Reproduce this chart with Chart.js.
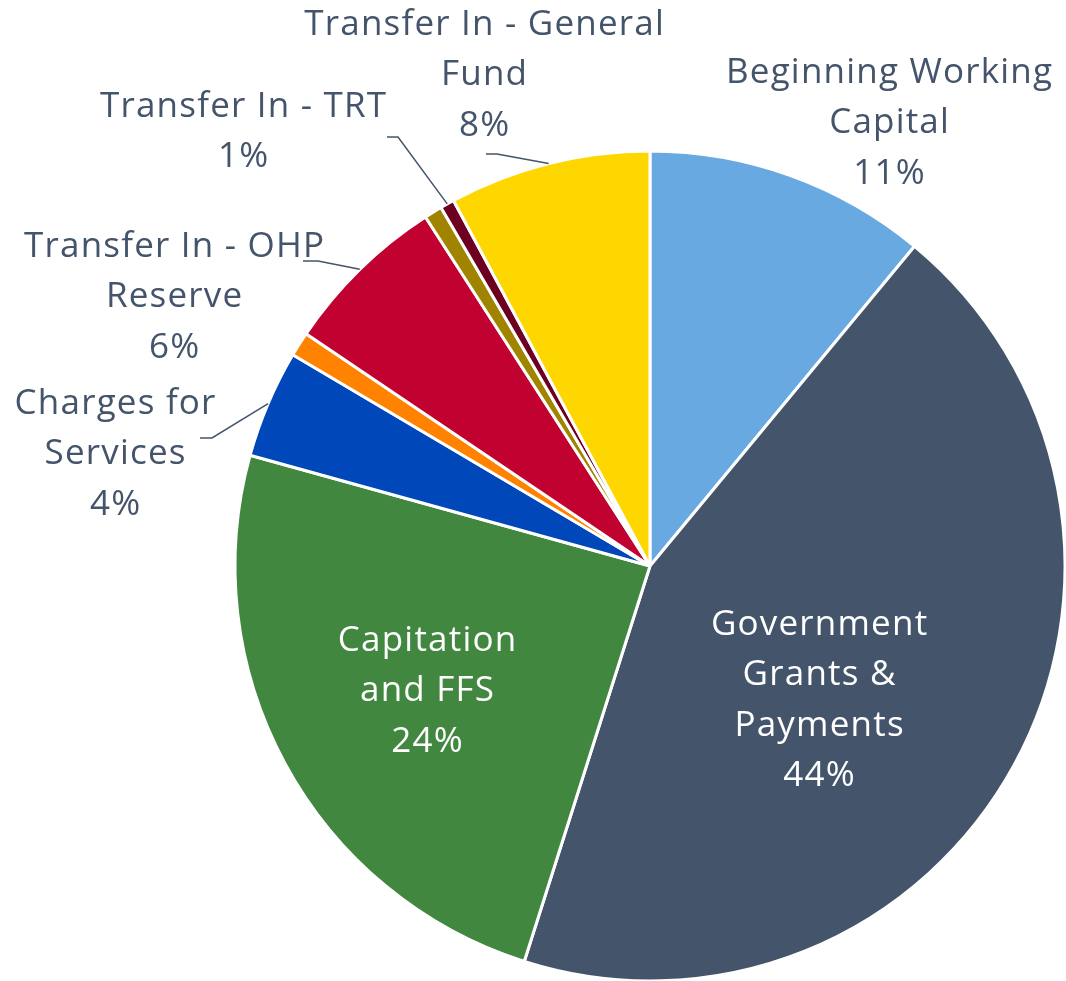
<!DOCTYPE html>
<html>
<head>
<meta charset="utf-8">
<script src="https://cdn.jsdelivr.net/npm/chart.js@4.4.0/dist/chart.umd.min.js"></script>
<style>
  html, body { margin: 0; padding: 0; background: #ffffff; }
  #wrap { width: 1066px; height: 981px; position: relative; }
</style>
</head>
<body>
<div id="wrap"><canvas id="c"></canvas></div>
<script>
// ---- data ----
const categories = [
  "Beginning Working Capital",
  "Government Grants & Payments",
  "Capitation and FFS",
  "Charges for Services",
  "Other Revenue",
  "Transfer In - OHP Reserve",
  "Transfer In - Other",
  "Transfer In - TRT",
  "Transfer In - General Fund"
];
const shareValues = [11.0, 43.9, 24.4, 4.2, 0.95, 6.45, 0.7, 0.55, 7.85];
const percentLabels = ["11%", "44%", "24%", "4%", "", "6%", "", "1%", "8%"];
const labelLines = [
  ["Beginning Working", "Capital"],
  ["Government", "Grants &", "Payments"],
  ["Capitation", "and FFS"],
  ["Charges for", "Services"],
  [],
  ["Transfer In - OHP", "Reserve"],
  [],
  ["Transfer In - TRT"],
  ["Transfer In - General", "Fund"]
];
const sliceColors = ["#68A9E2", "#44546A", "#41873F", "#0047BA", "#FF8200", "#C10230", "#A08400", "#6D0020", "#FFD700"];

// ---- label layout (text centre x, first line centre y, colour, leader) ----
const labelLayout = [
  { x: 889, y: 73,  inside: false, leader: null },
  { x: 819, y: 625, inside: true,  leader: null },
  { x: 427, y: 641, inside: true,  leader: null },
  { x: 115, y: 404, inside: false, leader: [[200, 438], [212, 438]] },
  null,
  { x: 174, y: 247, inside: false, leader: [[303, 261], [318, 261]] },
  null,
  { x: 243, y: 107, inside: false, leader: [[387, 137], [398, 137]] },
  { x: 484, y: 25,  inside: false, leader: [[486, 154], [497, 154]] }
];
const FONT = '35px "Open Sans", "Noto Sans", sans-serif';
const LETTER_SPACING = 1.2;
const LINE_H = 50.5;
const TEXT_COLOR = '#44546A';

const labelPlugin = {
  id: 'pieLabels',
  afterDatasetsDraw(chart) {
    const ctx = chart.ctx;
    const arcs = chart.getDatasetMeta(0).data;
    ctx.save();
    ctx.font = FONT;
    if ('letterSpacing' in ctx) ctx.letterSpacing = LETTER_SPACING + 'px';
    ctx.textAlign = 'center';
    ctx.textBaseline = 'middle';
    arcs.forEach((arc, i) => {
      const lay = labelLayout[i];
      if (!lay) return;
      const p = arc.getProps(['x', 'y', 'startAngle', 'endAngle', 'outerRadius'], true);
      if (lay.leader) {
        const mid = (p.startAngle + p.endAngle) / 2;
        const ex = p.x + Math.cos(mid) * p.outerRadius;
        const ey = p.y + Math.sin(mid) * p.outerRadius;
        ctx.strokeStyle = TEXT_COLOR;
        ctx.lineWidth = 1.5;
        ctx.beginPath();
        ctx.moveTo(lay.leader[0][0], lay.leader[0][1]);
        ctx.lineTo(lay.leader[1][0], lay.leader[1][1]);
        ctx.lineTo(ex, ey);
        ctx.stroke();
      }
      const lines = labelLines[i].concat([percentLabels[i]]);
      ctx.fillStyle = lay.inside ? '#ffffff' : TEXT_COLOR;
      lines.forEach((t, k) => ctx.fillText(t, lay.x + LETTER_SPACING / 2, lay.y + k * LINE_H));
    });
    ctx.restore();
  }
};

new Chart(document.getElementById('c'), {
  type: 'pie',
  data: {
    labels: categories,
    datasets: [{
      data: shareValues,
      backgroundColor: sliceColors,
      borderColor: '#ffffff',
      borderWidth: 3,
      radius: 415
    }]
  },
  options: {
    responsive: true,
    maintainAspectRatio: false,
    animation: false,
    layout: { padding: { left: 234, right: 0, top: 151, bottom: 0 } },
    plugins: {
      legend: { display: false },
      tooltip: { enabled: false }
    }
  },
  plugins: [labelPlugin]
});
</script>
</body>
</html>
